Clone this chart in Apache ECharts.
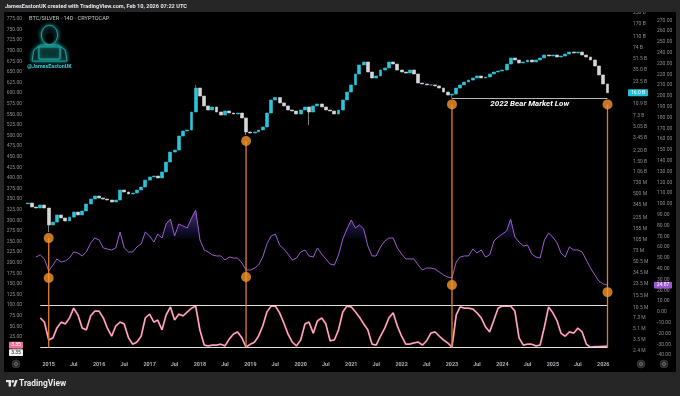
<!DOCTYPE html>
<html>
<head>
<meta charset="utf-8">
<title>BTC/SILVER 14D</title>
<script src="https://cdn.jsdelivr.net/npm/echarts@6.0.0/dist/echarts.min.js"></script>
<style>
html,body{margin:0;padding:0;background:#262626;overflow:hidden}
#chart{width:680px;height:396px}
</style>
</head>
<body>
<div id="chart"></div>
<script>
// ---------------- data ----------------
const candleStart = '2014-08';
const candleFirstOpen = 0.36;               // billions
const candleClose = [
  0.370,0.323,0.312,0.346,0.312,0.175,0.193,0.246,0.222,0.200,
  0.229,0.272,0.246,0.282,0.358,0.424,0.470,0.439,0.424,0.410,
  0.383,0.410,0.577,0.539,0.504,0.521,0.577,0.640,0.810,0.900,
  0.930,0.870,1.07,1.50,2.11,2.26,3.65,4.33,4.48,8.29,
  18.8,14.3,10.2,8.88,9.84,8.29,7.48,8.58,8.01,7.74,
  8.01,6.76,4.19,4.05,4.19,4.48,4.97,8.01,12.5,13.6,
  11.3,10.2,8.88,8.58,7.74,8.88,9.84,8.29,10.2,10.9,
  9.84,8.88,8.58,7.74,8.88,12.5,16.4,20.9,30.4,41.3,
  45.8,32.5,26.5,28.4,34.8,37.3,45.8,42.7,34.8,32.5,
  31.4,34.8,30.4,22.3,21.6,20.9,20.9,20.2,18.8,16.4,
  14.8,15.3,18.8,20.9,23.1,24.7,26.5,28.4,26.5,27.4,
  30.4,32.5,33.7,34.8,42.7,52.5,49.0,44.2,45.8,49.0,
  45.8,49.0,52.5,58.1,56.2,58.1,54.3,56.2,60.2,64.4,
  62.3,64.4,58.1,54.3,49.0,39.9,29.4,21.6,16.0
];
const wickLow  = {'2015-01':0.137,'2018-12':3.78,'2020-03':5.30,'2023-01':13.2};
const wickHigh = {'2017-12':21.0};

const purpleStart = '2014-10';
const purpleValues = [
  50.9,52.8,49.1,38.0,43.5,49.1,46.3,47.2,50.0,55.6,
  54.6,51.9,55.6,63.9,68.5,66.7,59.3,58.3,57.4,59.3,
  74.1,59.3,55.6,55.6,60.2,63.0,74.1,70.4,64.8,72.2,
  68.5,81.5,86.1,70.4,81.5,79.6,77.8,87.0,94.4,66.7,
  57.4,55.6,52.8,51.9,51.9,48.1,50.9,50.0,50.0,45.4,
  38.9,38.9,40.7,43.5,50.9,63.0,70.4,72.2,62.0,58.3,
  53.7,48.1,50.0,55.6,57.4,51.9,50.9,59.3,53.7,49.1,
  44.4,43.5,52.8,67.6,76.9,85.2,77.8,80.6,76.9,61.1,
  51.9,51.9,60.2,65.7,68.5,68.5,59.3,53.7,49.1,49.1,
  49.1,43.5,38.9,40.7,40.7,39.8,37.0,34.3,32.4,31.5,
  46.3,50.9,51.9,51.9,58.3,54.6,57.4,50.9,52.8,65.7,
  69.4,72.2,75.0,86.1,69.4,64.8,61.1,62.0,53.7,50.9,
  50.0,66.7,73.1,69.4,63.9,54.6,50.9,60.2,57.4,57.4,
  55.6,48.1,40.7,34.3,28.7,25.9,24.87
];
const purpleFillLevel = 68;

const oscStart = '2014-11';
const oscValues = [
  70,60,18,23,46,60,56,70,93,77,
  46,42,75,86,86,70,46,27,51,60,
  56,23,8,13,27,70,79,60,65,42,
  77,96,65,79,75,84,93,98,41,6,
  4,6,6,8,4,20,32,37,23,1,
  8,13,27,51,84,98,98,82,58,32,
  13,4,18,56,60,34,63,70,56,16,
  18,42,84,98,96,84,72,56,42,8,
  6,27,46,70,82,51,27,8,8,11,
  13,6,16,34,37,27,18,11,1,77,
  96,93,93,91,82,70,49,37,65,93,
  98,98,98,86,23,6,8,8,4,6,
  49,96,82,63,34,27,37,34,46,37,
  8,1,2,2,3,3.35
];
const oscBands = [100, 0];

const markerDates = ['2015-01','2018-12','2023-01','2026-02'];
const bearLowWindow = ['2022-01','2023-12'];
const bearLowText = '2022 Bear Market Low';

const xTickDates = ['2015-01','2015-07','2016-01','2016-07','2017-01','2017-07','2018-01','2018-07',
  '2019-01','2019-07','2020-01','2020-07','2021-01','2021-07','2022-01','2022-07','2023-01','2023-07',
  '2024-01','2024-07','2025-01','2025-07','2026-01'];
const leftTicks = [0,25,50,75,100,125,150,175,200,225,250,275,300,325,350,375,400,425,450,475,500,
  525,550,575,600,625,650,675,700,725,750,775];
const outerTicks = [-40,-30,-20,-10,0,10,20,30,40,50,60,70,80,90,100,110,120,130,140,150,160,170,180,
  190,200,210,220,230,240,250,260,270];
const innerTickValues = [250,170,110,74,51.5,35,23.5,16,10.9,7.3,5.05,3.45,2.2,1.5,1.06,0.73,0.5,0.345,
  0.225,0.155,0.105,0.073,0.0505,0.0345,0.0235,0.0155,0.0105,0.0073,0.0051,0.0035,0.0024];
const innerTickLabels = ['250 B','170 B','110 B','74 B','51.5 B','35.0 B','23.5 B','16.0 B','10.9 B','7.3 B',
  '5.05 B','3.45 B','2.20 B','1.50 B','1.06 B','730 M','500 M','345 M','225 M','155 M','105 M','73 M',
  '50.5 M','34.5 M','23.5 M','15.5 M','10.5 M','7.3 M','5.1 M','3.5 M','2.4 M'];

// ---------------- helpers ----------------
const FONT = 'Roboto, "Liberation Sans", "DejaVu Sans", sans-serif';
const GRAY = '#8e8e8e';
const CYAN = '#2cc5d8';
const WHITE = '#d4d6d8';
const PURPLE = '#a05bd3';
const PINK = '#ee6f98';
const ORANGE = '#f7952a';
const ORANGE_LINE = '#de7f2e';

function keyToTs(k){ const p = k.split('-').map(Number); return Date.UTC(p[0], p[1]-1, 1); }
function monthKeys(start, n){
  let p = start.split('-').map(Number), y = p[0], m = p[1]; const out = [];
  for (let i = 0; i < n; i++){ out.push(y + '-' + String(m).padStart(2,'0')); m++; if (m > 12){ m = 1; y++; } }
  return out;
}

const candleKeys = monthKeys(candleStart, candleClose.length);
const candleData = candleClose.map((c, i) => {
  const k = candleKeys[i];
  const o = i === 0 ? candleFirstOpen : candleClose[i-1];
  const lo = Math.min(o, c, wickLow[k] !== undefined ? wickLow[k] : Infinity);
  const hi = Math.max(o, c, wickHigh[k] !== undefined ? wickHigh[k] : -Infinity);
  return [keyToTs(k), o, c, lo, hi];
});
const candleByKey = {}; candleKeys.forEach((k,i)=>candleByKey[k]=candleData[i]);

const purpleKeys = monthKeys(purpleStart, purpleValues.length);
const purpleData = purpleValues.map((v,i)=>[keyToTs(purpleKeys[i]), v]);
const purpleByKey = {}; purpleKeys.forEach((k,i)=>purpleByKey[k]=purpleValues[i]);

const oscKeys = monthKeys(oscStart, oscValues.length);
const oscData = oscValues.map((v,i)=>[keyToTs(oscKeys[i]), v]);

let bearLow = Infinity;
candleKeys.forEach((k,i)=>{ if (k >= bearLowWindow[0] && k <= bearLowWindow[1]) bearLow = Math.min(bearLow, candleData[i][3]); });

const lastKey = candleKeys[candleKeys.length-1];
const lastTs = keyToTs(lastKey);
const candleMarkers = markerDates.map((k, i) => [keyToTs(k), i === markerDates.length-1 ? bearLow : candleByKey[k][3]]);
const purpleMarkers = markerDates.map(k => [keyToTs(k), purpleByKey[k]]);

// ---------------- chart ----------------
const chart = echarts.init(document.getElementById('chart'), null, {renderer:'canvas', width:680, height:396});

const option = {
  animation: false,
  backgroundColor: '#000000',
  grid: {left: 24, right: 50, top: 12, bottom: 38, containLabel: false},
  xAxis: {
    type: 'time',
    min: Date.UTC(2014, 6, 6), max: Date.UTC(2026, 6, 14),
    axisLine: {show:false}, axisTick: {show:false}, splitLine: {show:false},
    axisLabel: {show: false}
  },
  yAxis: [
    { // oscillator (left)
      type: 'value', position: 'left', min: -24.5, max: 791.5,
      axisLine:{show:false}, axisTick:{show:false}, splitLine:{show:false},
      axisLabel: {show:false}
    },
    { // price (log, inner right)
      type: 'log', logBase: 10, position: 'right', min: 0.001857, max: 252.6,
      axisLine:{show:false}, axisTick:{show:false}, splitLine:{show:false}, axisLabel:{show:false}
    },
    { // purple indicator (outer right)
      type: 'value', position: 'right', offset: 24, min: -42.6, max: 277.8,
      axisLine:{show:false}, axisTick:{show:false}, splitLine:{show:false},
      axisLabel: {show:false}
    }
  ],
  series: [
    {
      name: 'BTC/SILVER', type: 'candlestick', xAxisIndex: 0, yAxisIndex: 1,
      data: candleData, encode: {x: 0, y: [1,2,3,4]},
      barWidth: 3.4,
      itemStyle: {color: CYAN, color0: WHITE, borderColor: CYAN, borderColor0: WHITE, borderWidth: 0.6},
      markLine: {
        silent: true, symbol: ['none','none'], animation: false,
        lineStyle: {color: '#e6e6e6', width: 0.8, type: 'solid'},
        label: {show: true, position: 'insideMiddleBottom', formatter: bearLowText, color: '#ffffff',
                fontStyle: 'italic', fontWeight: 'bold', fontSize: 8, fontFamily: FONT, distance: 2},
        data: [[{coord: [keyToTs(markerDates[2]), bearLow]}, {coord: [lastTs, bearLow]}]]
      },
      z: 3
    },
    {
      name: 'fillBase', type: 'line', xAxisIndex: 0, yAxisIndex: 2, stack: 'pfill', silent: true,
      data: purpleData.map(d => [d[0], purpleFillLevel]), symbol: 'none', showSymbol: false,
      lineStyle: {width: 0, opacity: 0}, z: 2
    },
    {
      name: 'fillTop', type: 'line', xAxisIndex: 0, yAxisIndex: 2, stack: 'pfill', silent: true,
      data: purpleData.map(d => [d[0], Math.max(d[1] - purpleFillLevel, 0)]), symbol: 'none', showSymbol: false,
      lineStyle: {width: 0, opacity: 0},
      areaStyle: {color: new echarts.graphic.LinearGradient(0,0,0,1,[
        {offset:0, color:'rgba(140,95,230,0.8)'}, {offset:1, color:'rgba(50,55,170,0.15)'}])},
      z: 2
    },
    {
      name: 'Indicator', type: 'line', xAxisIndex: 0, yAxisIndex: 2, data: purpleData,
      symbol: 'none', showSymbol: false, lineStyle: {color: PURPLE, width: 1}, z: 4
    },
    {
      name: 'Osc', type: 'line', xAxisIndex: 0, yAxisIndex: 0, data: oscData,
      symbol: 'none', showSymbol: false, lineStyle: {color: PINK, width: 1.8}, z: 4,
      markLine: {
        silent: true, symbol: ['none','none'], animation: false,
        lineStyle: {color: '#dedede', width: 1, type: 'solid'}, label: {show: false},
        data: oscBands.map(b => [{coord: [oscData[0][0], b]}, {coord: [lastTs, b]}])
      }
    },
    {
      name: 'OscSignal', type: 'line', xAxisIndex: 0, yAxisIndex: 0, data: oscData,
      symbol: 'none', showSymbol: false, lineStyle: {color: 'rgba(255,255,255,0.85)', width: 0.6}, z: 5
    },
    {
      name: 'PriceMarks', type: 'scatter', xAxisIndex: 0, yAxisIndex: 1, data: candleMarkers,
      symbolSize: 10, symbolOffset: [0, 6], itemStyle: {color: ORANGE}, z: 20, silent: true
    },
    {
      name: 'IndMarks', type: 'scatter', xAxisIndex: 0, yAxisIndex: 2, data: purpleMarkers,
      symbolSize: 10, symbolOffset: [0, 7], itemStyle: {color: ORANGE}, z: 20, silent: true
    }
  ]
};
chart.setOption(option);

// ---------------- overlays positioned through the axes ----------------
const g = [];
function txt(x, y, text, opts){
  opts = opts || {};
  return {type:'text', x:x, y:y, z: opts.z || 30, silent:true,
    style:{text:text, fill: opts.fill || GRAY, font: opts.font || ('5px ' + FONT),
      align: opts.align || 'left', verticalAlign: opts.va || 'middle',
      textAlign: opts.align || 'left', textVerticalAlign: opts.va || 'middle'}};
}
// frame
g.push({type:'rect', shape:{x:0,y:0,width:680,height:12}, style:{fill:'#262626'}, z:40, silent:true});
g.push({type:'rect', shape:{x:0,y:372,width:680,height:24}, style:{fill:'#262626'}, z:40, silent:true});
g.push({type:'rect', shape:{x:0,y:0,width:4,height:396}, style:{fill:'#262626'}, z:40, silent:true});
g.push({type:'rect', shape:{x:676,y:0,width:4,height:396}, style:{fill:'#262626'}, z:40, silent:true});
g.push(txt(5, 6.5, 'JamesEastonUK created with TradingView.com, Feb 10, 2026 07:22 UTC',
  {fill:'#e2e4e8', font:'bold 5.6px ' + FONT, z:41}));
g.push(txt(29, 18.5, 'BTC/SILVER · 14D · CRYPTOCAP', {fill:'#c4c6ca', font:'5.6px ' + FONT}));

// logo (hooded figure + handle)
const TEAL = '#22b8b4';
g.push({type:'polygon', shape:{points:[[32,61],[34,50],[41,45],[58,45],[65,50],[67,61]]},
  style:{fill:'#041616', stroke:TEAL, lineWidth:0.8, shadowBlur:4, shadowColor:TEAL}, z:30, silent:true});
g.push({type:'ellipse', shape:{cx:49.5, cy:35, rx:8, ry:9.5},
  style:{fill:'#031212', stroke:TEAL, lineWidth:0.8, shadowBlur:4, shadowColor:TEAL}, z:31, silent:true});
g.push({type:'ellipse', shape:{cx:49.5, cy:38, rx:4.2, ry:5}, style:{fill:'#000'}, z:32, silent:true});
g.push({type:'rect', shape:{x:39, y:47, width:21, height:12},
  style:{fill:'#0a3434', stroke:TEAL, lineWidth:0.8, shadowBlur:3, shadowColor:TEAL}, z:33, silent:true});
g.push(txt(49.5, 66.5, '@JamesEastonUK', {fill:'#3ad3df', font:'bold 5.4px ' + FONT, align:'center'}));

// footer logo
g.push({type:'rect', shape:{x:6, y:380, width:5, height:2.2}, style:{fill:'#e8e8e8'}, z:41, silent:true});
g.push({type:'rect', shape:{x:8.6, y:380, width:2.4, height:6.5}, style:{fill:'#e8e8e8'}, z:41, silent:true});
g.push({type:'circle', shape:{cx:12.8, cy:381.4, r:1.3}, style:{fill:'#e8e8e8'}, z:41, silent:true});
g.push({type:'polygon', shape:{points:[[13,386.5],[15.4,380],[17.6,380],[15.4,386.5]]}, style:{fill:'#e8e8e8'}, z:41, silent:true});
g.push(txt(19, 383.5, 'TradingView', {fill:'#ececec', font:'bold 8.4px ' + FONT, z:41}));

// bottom icons
[[16,364],[641,364],[664,364]].forEach(p=>{
  g.push({type:'circle', shape:{cx:p[0], cy:p[1], r:4}, style:{fill:'#2c2c2c', stroke:'#444', lineWidth:0.5}, z:30, silent:true});
  g.push({type:'circle', shape:{cx:p[0], cy:p[1], r:1.5}, style:{fill:'none', stroke:'#9a9a9a', lineWidth:0.6}, z:31, silent:true});
});

// time axis labels
xTickDates.forEach(k=>{
  const x = chart.convertToPixel({xAxisIndex:0}, keyToTs(k));
  const mm = k.split('-')[1];
  g.push(txt(x, 364.5, mm === '01' ? k.split('-')[0] : 'Jul',
    {fill:'#b0b3b8', font:'bold 5.4px ' + FONT, align:'center'}));
});
// left (oscillator) axis labels
leftTicks.forEach(v=>{
  const y = chart.convertToPixel({yAxisIndex:0}, v);
  g.push(txt(22, y, v.toFixed(2), {align:'right'}));
});
// inner (log) axis labels
innerTickValues.forEach((v,i)=>{
  const y = chart.convertToPixel({yAxisIndex:1}, v);
  g.push(txt(633, y, innerTickLabels[i]));
});
// outer axis labels
outerTicks.forEach(v=>{
  const y = chart.convertToPixel({yAxisIndex:2}, v);
  g.push(txt(657, y, v.toFixed(2)));
});

// orange verticals from price marks to oscillator zero
const yZero = chart.convertToPixel({yAxisIndex:0}, oscBands[1]);
candleMarkers.forEach(m=>{
  const p = chart.convertToPixel({xAxisIndex:0, yAxisIndex:1}, m);
  g.push({type:'line', shape:{x1:p[0], y1:p[1]+6, x2:p[0], y2:yZero},
    style:{stroke:ORANGE_LINE, lineWidth:1.3}, z:15, silent:true});
});

// last-value tags
function tag(x, y, w, text, fill, color){
  g.push({type:'rect', shape:{x:x, y:y-3.4, width:w, height:6.8, r:0.8}, style:{fill:fill}, z:35, silent:true});
  g.push(txt(x + w/2, y, text, {fill:color, align:'center', z:36}));
}
const lastC = candleData[candleData.length-1][2];
tag(628, chart.convertToPixel({yAxisIndex:1}, lastC), 20, lastC.toFixed(1) + ' B', '#21c1da', '#ffffff');
const lastP = purpleValues[purpleValues.length-1];
tag(654, chart.convertToPixel({yAxisIndex:2}, lastP), 18, lastP.toFixed(2), '#9b57d1', '#ffffff');
const lastO = oscValues[oscValues.length-1];
const yO = chart.convertToPixel({yAxisIndex:0}, lastO);
tag(9, yO - 1, 14, lastO.toFixed(2), PINK, '#ffffff');
tag(9, yO + 6.5, 14, lastO.toFixed(2), '#f2f2f2', '#222222');

chart.setOption({graphic: {elements: g}});
</script>
</body>
</html>
